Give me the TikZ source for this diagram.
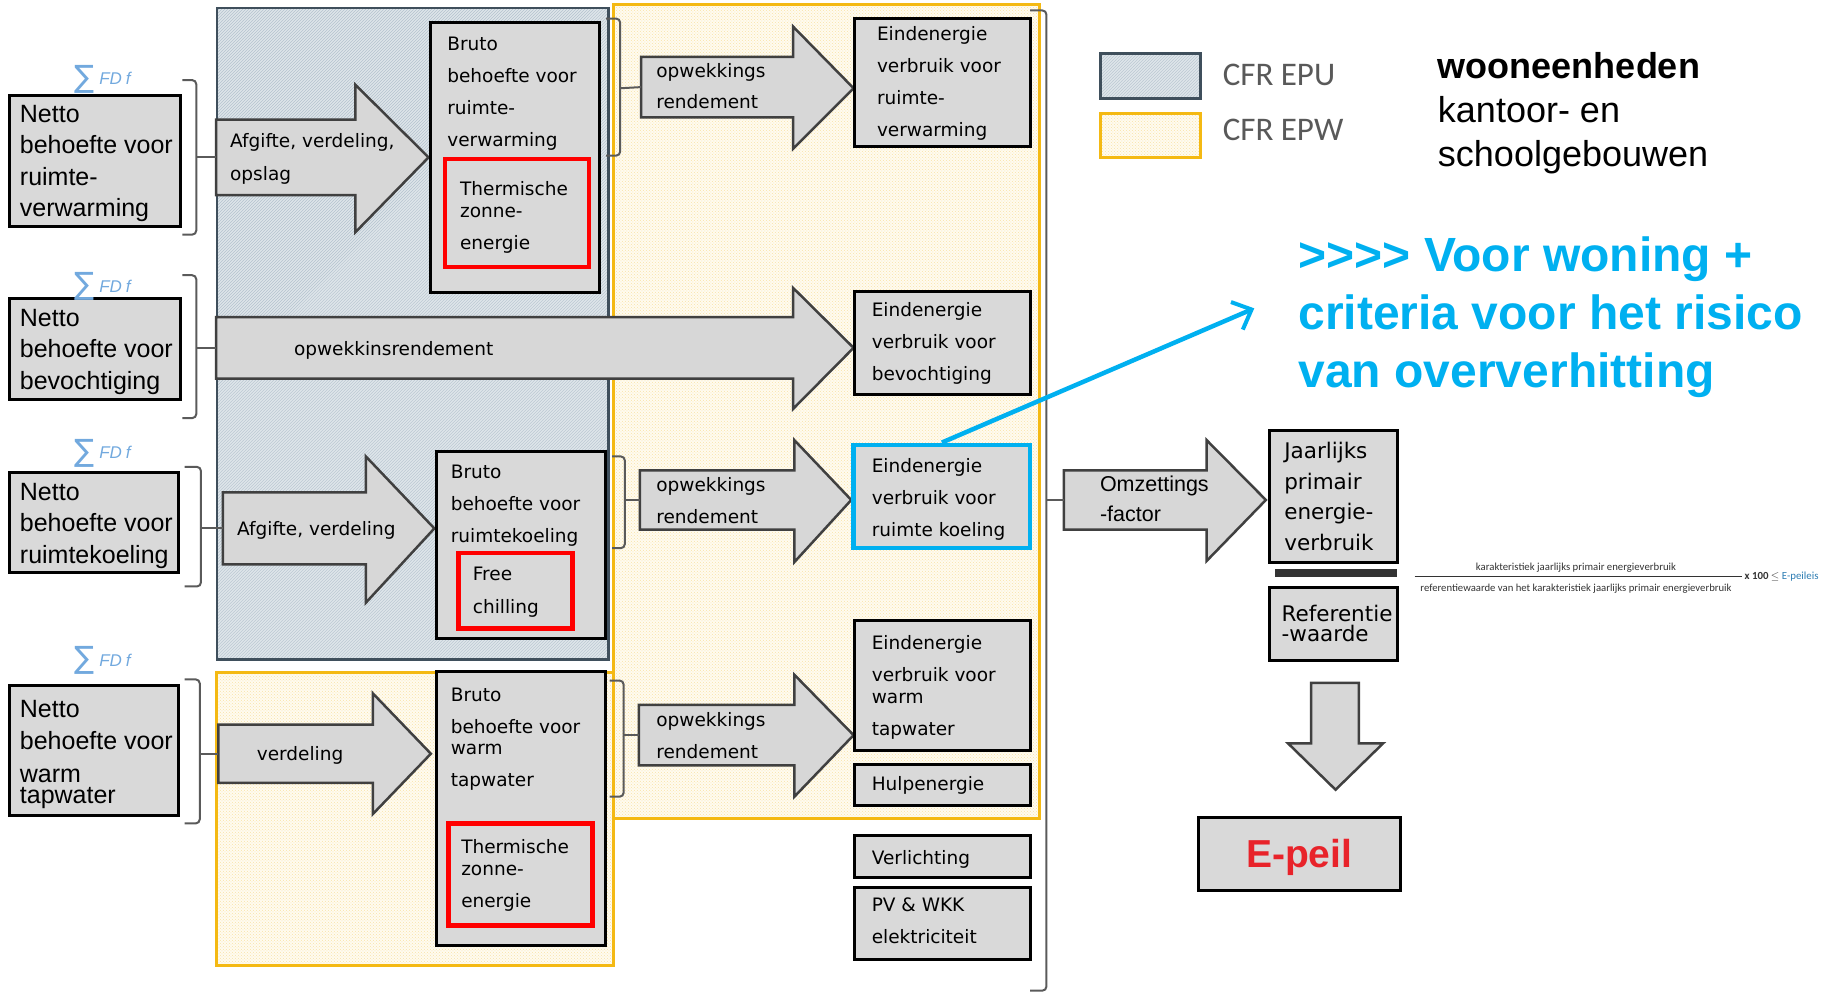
\documentclass[tikz,border=0pt]{standalone}
\usepackage{fontspec}
\usepackage{graphicx}
\setmainfont{Liberation Sans}
\newfontfamily\dvs{DejaVu Sans}
\newfontfamily\carl{Carlito}
\usetikzlibrary{patterns,arrows.meta}
\definecolor{boxgray}{HTML}{D9D9D9}
\definecolor{arrowgray}{HTML}{D7D7D7}
\definecolor{arrowedge}{HTML}{404040}
\definecolor{brkgray}{HTML}{5A5A5A}
\definecolor{cyanblue}{HTML}{00B0F0}
\definecolor{epeilred}{HTML}{E8232A}
\definecolor{bluefill}{HTML}{DEE5EA}
\definecolor{bluehatch}{HTML}{B4C2CE}
\definecolor{blueedge}{HTML}{3F4F5C}
\definecolor{yelfill}{HTML}{FFFBF0}
\definecolor{yeldots}{HTML}{F8E3A6}
\definecolor{yeledge}{HTML}{F4B913}
\definecolor{sigblue}{HTML}{72A9DE}
\definecolor{leggray}{HTML}{595959}
\definecolor{epteal}{HTML}{2D7DB3}
\definecolor{fractxt}{HTML}{333333}
\newcommand{\topstr}{\rule{0pt}{0.8em}}
\newcommand{\mkbox}[6]{\node[#6, minimum width={((#4)-(#2))*1.1614pt}, minimum height={((#5)-(#3))*1.1614pt}] (#1) at ({((#2)+(#4))/2},{((#3)+(#5))/2}) {};}
\newcommand{\blkarrow}[9]{%
  \draw[blkarrowstyle] (#2,#3) -- (#5,#3) -- (#5,#6) -- (#8,#9) -- (#5,#7) -- (#5,#4) -- (#2,#4) -- cycle;
  \coordinate (#1) at (#2,{((#3)+(#4))/2});}
\newcommand{\brkt}[6]{%
  \draw[brk] (#1,#3) -- (#2,#3) -- (#2,#4) -- (#1,#4);
  \draw[brkline] (#2,#5) -- (#6);}
\newcommand{\sigmalabel}[3]{%
  \node[sig] (#1) at (72.5,#2) {\resizebox*{20pt}{28pt}{\dvs ∑}};
  \node[sig, font=\itshape\fontsize{17}{17}\selectfont] (#3) at (99,{(#2)-0.5}) {FD\hspace{4pt}f};}
\tikzset{
  gbox/.style={draw=black, line width=3pt, fill=boxgray, inner sep=0pt},
  redbox/.style={draw=red, line width=4.5pt, fill=boxgray, inner sep=0pt},
  cybox/.style={draw=cyanblue, line width=4.5pt, fill=boxgray, inner sep=0pt},
  blkarrowstyle/.style={draw=arrowedge, line width=2.5pt, fill=arrowgray, line join=miter},
  brk/.style={draw=brkgray, line width=2pt, rounded corners=4pt},
  brkline/.style={draw=brkgray, line width=2pt},
  stxt/.style={anchor=north west, inner sep=0pt, align=left, font=\dvs\fontsize{18.5}{32}\selectfont},
  sline/.style={anchor=base west, inner sep=0pt, font=\dvs\fontsize{18.5}{32}\selectfont},
  ntxt/.style={anchor=north west, inner sep=0pt, align=left, font=\fontsize{25}{31.5}\selectfont},
  sig/.style={inner sep=0pt, text=sigblue},
}
\begin{document}
\begin{tikzpicture}[x=1.1614pt, y=-1.1614pt]
\useasboundingbox (0,0) rectangle (1568,855);
% ---------- regions ----------
\fill[yelfill] (528,4) rectangle (895,705);
\fill[yelfill] (186,579) rectangle (528,831);
\fill[pattern=crosshatch dots, pattern color=yeldots] (528,4) rectangle (895,705);
\fill[pattern=crosshatch dots, pattern color=yeldots] (186,579) rectangle (528,831);
\fill[bluefill] (187,7) rectangle (524,568);
\fill[pattern=north east lines, pattern color=bluehatch] (187,7) rectangle (524,568);
\draw[blueedge, line width=2.5pt] (187,7) rectangle (524,568);
\draw[yeledge, line width=3pt] (528,4) rectangle (895,705);
\draw[yeledge, line width=3pt] (186,579) rectangle (528,831);
% ---------- legend ----------
\fill[bluefill] (948,46) rectangle (1034,85);
\fill[pattern=north east lines, pattern color=bluehatch] (948,46) rectangle (1034,85);
\draw[blueedge, line width=3pt] (948,46) rectangle (1034,85);
\fill[yelfill] (948,97.6) rectangle (1034,136);
\fill[pattern=crosshatch dots, pattern color=yeldots] (948,97.6) rectangle (1034,136);
\draw[yeledge, line width=3pt] (948,97.6) rectangle (1034,136);
\node[anchor=base west, inner sep=0pt, font=\carl\fontsize{33}{33}\selectfont, text=leggray] (lg1) at (1052.7,73.6) {CFR EPU};
\node[anchor=base west, inner sep=0pt, font=\carl\fontsize{33}{33}\selectfont, text=leggray] (lg2) at (1052.7,121) {CFR EPW};
\node[anchor=north west, inner sep=0pt, align=left, font=\fontsize{36}{44}\selectfont] (wo) at (1238,42.7) {\topstr\textbf{wooneenheden}\\kantoor- en\\schoolgebouwen};
% ---------- block arrows ----------
\blkarrow{a1}{186}{103}{168}{306}{73}{200}{369}{135.5}
\blkarrow{a2}{552}{49}{101}{683}{23}{128}{735}{76}
\blkarrow{abig}{186}{273}{326}{683}{248}{352}{735}{299.5}
\blkarrow{a3}{192}{424}{486}{315}{393}{519}{374}{455}
\blkarrow{a4}{551}{405}{456}{684}{379}{484}{733}{430.5}
\blkarrow{a5}{188}{624}{674}{321}{597}{701}{371}{649}
\blkarrow{a6}{550}{607}{659}{684}{581}{686}{735}{633}
\blkarrow{aomz}{916}{405}{456}{1039}{379}{483}{1090}{430.5}
\draw[blkarrowstyle] (1129,588) -- (1170,588) -- (1170,640) -- (1191,640) -- (1150,680) -- (1109,640) -- (1129,640) -- cycle;
% ---------- brackets ----------
\brkt{157}{169}{69}{202}{135.5}{a1}
\brkt{157}{169}{237}{360}{299.5}{abig}
\brkt{159}{173}{402}{505}{455}{a3}
\brkt{159}{172}{585}{709}{649}{a5}
\brkt{522}{534}{16}{134}{76}{a2}
\brkt{527}{538}{393}{472}{430.5}{a4}
\brkt{525}{537}{586}{686}{633}{a6}
\brkt{887}{901}{9}{853}{430.5}{aomz}
% ---------- boxes ----------
\mkbox{n1}{8}{82}{155}{195}{gbox}
\mkbox{n2}{8}{257}{155}{344}{gbox}
\mkbox{n3}{8}{407}{154}{493}{gbox}
\mkbox{n4}{8}{590}{154}{702}{gbox}
\mkbox{b1}{371}{19}{516}{252}{gbox}
\mkbox{r1}{383}{137}{507}{230}{redbox}
\mkbox{e1}{736}{16}{887}{126}{gbox}
\mkbox{e2}{736}{251}{887}{340}{gbox}
\mkbox{b3}{376}{389}{521}{550}{gbox}
\mkbox{r3}{395}{476}{493}{541}{redbox}
\mkbox{e3}{735}{383}{887}{472}{cybox}
\mkbox{b4}{376}{578}{521}{814}{gbox}
\mkbox{r4}{386}{709}{510}{797}{redbox}
\mkbox{e4}{736}{534}{887}{646}{gbox}
\mkbox{hu}{736}{658}{887}{694}{gbox}
\mkbox{ve}{736}{719}{887}{756}{gbox}
\mkbox{pv}{736}{764}{887}{826}{gbox}
\mkbox{jp}{1093}{371}{1203}{484}{gbox}
\node[fill=black!80, inner sep=0pt, minimum width={105*1.1614pt}, minimum height={7*1.1614pt}] (bar) at (1150.5,493.7) {};
\mkbox{rf}{1093}{506}{1203}{569}{gbox}
\mkbox{ep}{1032}{704}{1206}{767}{gbox}
% ---------- sigma labels ----------
\sigmalabel{sg1}{68}{sf1}
\sigmalabel{sg2}{247}{sf2}
\sigmalabel{sg3}{390}{sf3}
\sigmalabel{sg4}{569}{sf4}
% ---------- texts ----------
\node[ntxt] (tn1) at (17,88) {\topstr Netto\\behoefte voor\\ruimte-\\verwarming};
\node[ntxt] (tn2) at (17,263.5) {\topstr Netto\\behoefte voor\\bevochtiging};
\node[ntxt] (tn3) at (17,413.5) {\topstr Netto\\behoefte voor\\ruimtekoeling};
\node[ntxt] (tn4) at (17,600) {\topstr Netto\\[1pt]behoefte voor\\[1pt]warm\\[-10pt]tapwater};
\node[stxt] (tb1) at (385,30.4) {\topstr Bruto\\behoefte voor\\ruimte-\\verwarming};
\node[stxt] (tr1) at (396,155) {\topstr Thermische\\[-10pt]zonne-\\energie};
\node[stxt] (te1) at (755,21.8) {\topstr Eindenergie\\verbruik voor\\ruimte-\\verwarming};
\node[stxt] (ta2) at (565,54) {\topstr opwekkings\\[-1pt]rendement};
\node[stxt] (te2) at (750.5,260) {\topstr Eindenergie\\verbruik voor\\bevochtiging};
\node[stxt] (ta1) at (198,113.7) {\topstr Afgifte, verdeling,\\[1pt]opslag};
\node[sline] (tbig) at (253,305.8) {opwekkinsrendement};
\node[sline] (ta3) at (204,460.8) {Afgifte, verdeling};
\node[stxt] (tb3) at (388,398.7) {\topstr Bruto\\behoefte voor\\ruimtekoeling};
\node[stxt] (tr3) at (407,486.6) {\topstr Free\\[1pt]chilling};
\node[stxt] (ta4) at (565,410) {\topstr opwekkings\\rendement};
\node[stxt] (te3) at (750.5,394) {\topstr Eindenergie\\verbruik voor\\ruimte koeling};
\node[sline] (ta5) at (221,654.8) {verdeling};
\node[stxt] (tb4) at (388,591) {\topstr Bruto\\behoefte voor\\[-11pt]warm\\tapwater};
\node[stxt] (tr4) at (397,722) {\topstr Thermische\\[-10.4pt]zonne-\\energie};
\node[stxt] (ta6) at (565,612.7) {\topstr opwekkings\\rendement};
\node[stxt] (te4) at (750.5,546) {\topstr Eindenergie\\verbruik voor\\[-10pt]warm\\tapwater};
\node[sline] (thu) at (750.5,680.8) {Hulpenergie};
\node[sline] (tve) at (750.5,744) {Verlichting};
\node[stxt] (tpv) at (750.5,772) {\topstr PV \& WKK\\elektriciteit};
\node[anchor=north west, inner sep=0pt, align=left, font=\fontsize{21.5}{30.2}\selectfont] (tomz) at (947,408.4) {\topstr Omzettings\\-factor};
\node[anchor=north west, inner sep=0pt, align=left, font=\dvs\fontsize{21.5}{30.5}\selectfont] (tjp) at (1105.7,380) {\topstr Jaarlijks\\primair\\energie-\\verbruik};
\node[anchor=north west, inner sep=0pt, align=left, font=\dvs\fontsize{21.5}{20.3}\selectfont] (trf) at (1103.4,520) {\topstr Referentie\\-waarde};
\node[anchor=base, inner sep=0pt, font=\bfseries\fontsize{39}{39}\selectfont, text=epeilred] (tep) at (1118.6,747) {E-peil};
% ---------- fraction ----------
\node[inner sep=0pt, text=fractxt] (num) at (1357,489) {\resizebox{200pt}{!}{\carl karakteristiek jaarlijks primair energieverbruik}};
\node[inner sep=0pt, text=fractxt] (den) at (1357,506.8) {\resizebox{311pt}{!}{\carl referentiewaarde van het karakteristiek jaarlijks primair energieverbruik}};
\coordinate (fl) at (1218,496.5);
\coordinate (fr) at (1500,496.5);
\draw[fractxt, line width=0.8pt] (fl) -- (fr);
\node[anchor=west, inner sep=0pt] (fx) at (1502,496.5) {\resizebox{74pt}{!}{\carl\textcolor{fractxt}{\bfseries x 100 $\leq$} \textcolor{epteal}{E-peileis}}};
% ---------- blue remark ----------
\node[anchor=north west, inner sep=0pt, align=left, text=cyanblue, font=\bfseries\fontsize{48}{58}\selectfont] (bt) at (1118,200.9) {\topstr{>}{>}{>}{>} Voor woning +\\criteria voor het risico\\van oververhitting};
\coordinate (btin) at (1080,265.5);
\draw[cyanblue, line width=4.5pt, -{Straight Barb[length=16pt, width=30pt, line width=4pt]}] (e3.north) -- (btin);
\end{tikzpicture}
\end{document}
